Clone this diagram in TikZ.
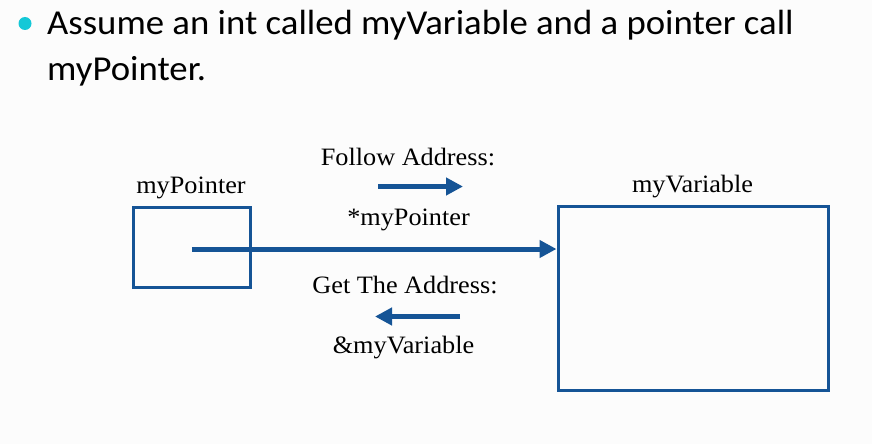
\documentclass[tikz,border=0pt]{standalone}
\usepackage{fontspec}
\setmainfont[FakeStretch=1.05]{Liberation Serif}
\newfontfamily\bodysans[FakeStretch=1.05]{Carlito}
\usetikzlibrary{arrows.meta}
\definecolor{boxblue}{RGB}{21,84,150}
\definecolor{bulletcyan}{RGB}{20,200,215}
\definecolor{bgpaper}{RGB}{252,252,252}
\tikzset{
  varbox/.style={draw=boxblue, line width=3pt, minimum width=#1, inner sep=0pt, outer sep=0pt},
  label text/.style={anchor=base, inner sep=0pt, font=\fontsize{25}{30}\selectfont, text=black},
  body text/.style={anchor=base west, inner sep=0pt, font=\bodysans\fontsize{35}{40}\selectfont, text=black},
  bluearrow/.style={draw=boxblue, line width=5pt, -{Triangle[length=17pt,width=17pt]}}
}
\begin{document}
\begin{tikzpicture}[x=1pt,y=-1pt]
\fill[bgpaper] (0,0) rectangle (872,444);
\useasboundingbox (0,0) rectangle (872,444);
% bullet text
\fill[bulletcyan] (25,23.5) circle (6.5pt);
\node[body text] (line1) at (47,35) {Assume an int called myVariable and a pointer call};
\node[body text] (line2) at (47,80) {myPointer.};
% boxes
\node[varbox=117.5pt, minimum height=80.5pt] (ptr) at (191.75,247.25) {};
\node[varbox=270pt, minimum height=184pt] (var) at (693.5,298.5) {};
% labels
\node[label text] (ptrlab) at (191,193) {myPointer};
\node[label text] (varlab) at (692.5,192) {myVariable};
\node[label text] (follow) at (408,165) {Follow Address:};
\node[label text] (deref) at (408.5,225) {*myPointer};
\node[label text] (getaddr) at (405,293) {Get The Address:};
\node[label text] (addrof) at (403.5,353) {\&myVariable};
% arrows
\coordinate (fa1) at (378,186.5);
\coordinate (fa2) at (463,186.5);
\coordinate (ga1) at (460,316.5);
\coordinate (ga2) at (375,316.5);
\draw[bluearrow] (fa1) -- (fa2);
\draw[bluearrow] (ga1) -- (ga2);
\draw[bluearrow, shorten >=2pt] ([yshift=-1.75pt]ptr.center) -- ([yshift=-1.75pt]ptr.center -| var.west);
\end{tikzpicture}
\end{document}
